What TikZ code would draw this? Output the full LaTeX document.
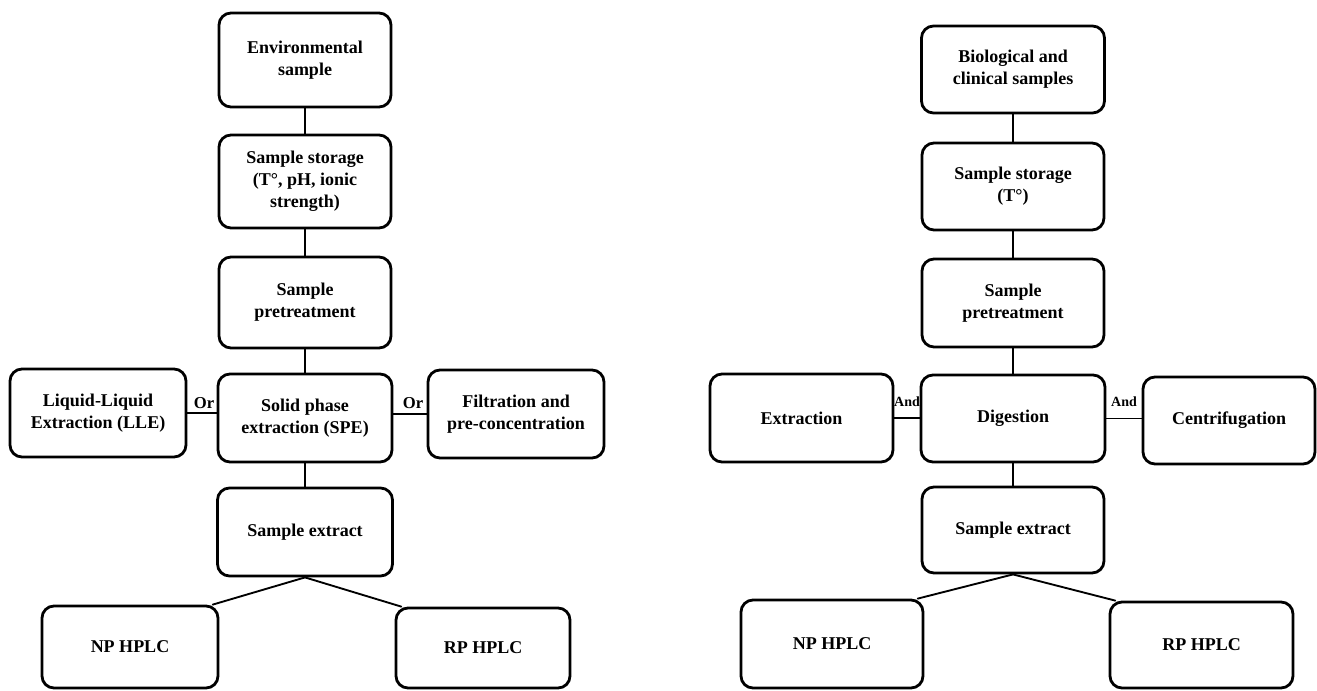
\documentclass[tikz,border=0pt]{standalone}
\usepackage{fontspec}
\setmainfont{Liberation Serif}

\begin{document}
\begin{tikzpicture}[x=0.75pt,y=-0.75pt,line cap=round,
  stage/.style={draw,line width=2.1pt,rounded corners=9pt,fill=white,align=center,inner sep=2pt,font=\fontsize{13.5}{16.5}\selectfont\bfseries},
  boxdim/.style 2 args={minimum width=#1*0.75pt,minimum height=#2*0.75pt},
  link/.style={line width=1.1pt},
  branch/.style={line width=1.4pt},
  cue/.style={inner sep=0pt,font=\fontsize{12.5}{13}\selectfont\bfseries},
  smallcue/.style={inner sep=0pt,font=\fontsize{10.5}{11}\selectfont\bfseries}]
\useasboundingbox (0,0) rectangle (1317,690);
% environmental samples
\node[stage,boxdim={172}{94}] (env) at (305,60) {Environmental\\sample};
\node[stage,boxdim={172}{93}] (stor) at (305,181.5) {Sample storage\\(T°, pH, ionic\\strength)};
\node[stage,boxdim={172}{91}] (pre) at (305,302.5) {Sample\\pretreatment};
\node[stage,boxdim={174}{88}] (spe) at (305,418) {Solid phase\\extraction (SPE)};
\node[stage,boxdim={176}{88}] (lle) at (98,413) {Liquid-Liquid\\Extraction (LLE)};
\node[stage,boxdim={176}{88}] (filt) at (516,414) {Filtration and\\pre-concentration};
\node[stage,boxdim={175}{88}] (ext) at (305,532) {Sample extract};
\node[stage,boxdim={176}{82}] (np) at (130,647) {NP HPLC};
\node[stage,boxdim={174}{80}] (rp) at (483,648) {RP HPLC};
\draw[link] (env) -- (stor);
\draw[link] (stor) -- (pre);
\draw[link] (pre) -- (spe);
\draw[link] (spe) -- (ext);
\draw[link] (lle) -- (lle -| spe.west);
\draw[link] (filt) -- (filt -| spe.east);
\node[cue] (or1) at (204,403) {Or};
\node[cue] (or2) at (413,403) {Or};
\draw[branch] (ext.south) -- ([xshift=-5pt]np.north east);
\draw[branch] (ext.south) -- ([xshift=5pt]rp.north west);
% biological and clinical samples
\node[stage,boxdim={183}{87}] (bio) at (1013,69.5) {Biological and\\clinical samples};
\node[stage,boxdim={182}{87}] (stor2) at (1013,186.5) {Sample storage\\(T°)};
\node[stage,boxdim={182}{88}] (pre2) at (1013,303) {Sample\\pretreatment};
\node[stage,boxdim={184}{87}] (dig) at (1013,418.5) {Digestion};
\node[stage,boxdim={183}{88}] (extr) at (801.5,418) {Extraction};
\node[stage,boxdim={172}{87}] (cen) at (1229,420.5) {Centrifugation};
\node[stage,boxdim={182}{86}] (ext2) at (1013,530) {Sample extract};
\node[stage,boxdim={182}{88}] (np2) at (832,644) {NP HPLC};
\node[stage,boxdim={183}{86}] (rp2) at (1201.5,645) {RP HPLC};
\draw[link] (bio) -- (stor2);
\draw[link] (stor2) -- (pre2);
\draw[link] (pre2) -- (dig);
\draw[link] (dig) -- (ext2);
\draw[link] (extr) -- (extr -| dig.west);
\draw[link] (dig) -- (dig -| cen.west);
\node[smallcue] (and1) at (907,402) {And};
\node[smallcue] (and2) at (1124,402) {And};
\draw[branch] (ext2.south) -- ([xshift=-5pt]np2.north east);
\draw[branch] (ext2.south) -- ([xshift=5pt]rp2.north west);
\end{tikzpicture}
\end{document}
